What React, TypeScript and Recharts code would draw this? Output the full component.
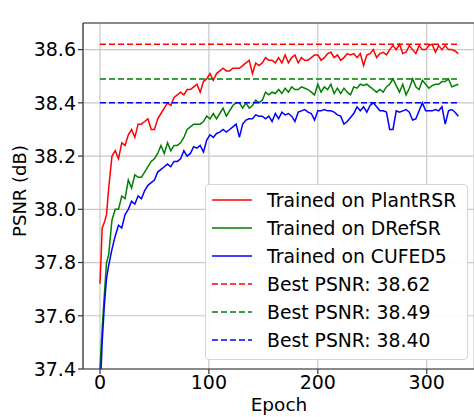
import { LineChart, Line, XAxis, YAxis, CartesianGrid, ReferenceLine, Label } from 'recharts';

const epochs = [
  0, 1, 2, 4, 6, 8,
  11, 14, 17, 20, 23, 26, 29, 32, 35, 38,
  41, 44, 47, 50, 53, 56, 59, 62, 65, 68,
  71, 74, 77, 80, 83, 86, 89, 92, 95, 98,
  101, 104, 107, 110, 113, 116, 119, 122, 125, 128,
  131, 134, 137, 140, 143, 146, 149, 152, 155, 158,
  161, 164, 167, 170, 173, 176, 179, 182, 185, 188,
  191, 194, 197, 200, 203, 206, 209, 212, 215, 218,
  221, 224, 227, 230, 233, 236, 239, 242, 245, 248,
  251, 254, 257, 260, 263, 266, 269, 272, 275, 278,
  281, 284, 287, 290, 293, 296, 299, 302, 305, 308,
  311, 314, 317, 320, 323, 326, 329,
];

const plantRSR = [
  37.72, 37.82, 37.93, 37.95, 37.98, 38.08,
  38.20, 38.22, 38.19, 38.25, 38.24, 38.28, 38.30, 38.27, 38.32, 38.32,
  38.33, 38.34, 38.30, 38.30, 38.34, 38.36, 38.38, 38.40, 38.39, 38.42,
  38.43, 38.44, 38.43, 38.45, 38.45, 38.46, 38.47, 38.44, 38.48, 38.49,
  38.51, 38.485, 38.51, 38.52, 38.53, 38.52, 38.52, 38.53, 38.53, 38.53,
  38.54, 38.55, 38.56, 38.51, 38.55, 38.54, 38.55, 38.57, 38.56, 38.56,
  38.55, 38.57, 38.55, 38.58, 38.55, 38.57, 38.58, 38.55, 38.57, 38.56,
  38.56, 38.57, 38.58, 38.58, 38.56, 38.57, 38.585, 38.59, 38.57, 38.58,
  38.56, 38.57, 38.585, 38.58, 38.585, 38.57, 38.585, 38.54, 38.58, 38.585,
  38.60, 38.57, 38.585, 38.59, 38.58, 38.60, 38.615, 38.60, 38.62, 38.585,
  38.59, 38.615, 38.60, 38.585, 38.615, 38.60, 38.60, 38.615, 38.62, 38.59,
  38.615, 38.60, 38.615, 38.60, 38.60, 38.595, 38.585,
];

const drefSR = [
  37.40, 37.48, 37.55, 37.68, 37.80, 37.83,
  37.96, 38.00, 38.00, 38.05, 38.04, 38.11, 38.08, 38.13, 38.12, 38.12,
  38.14, 38.16, 38.18, 38.19, 38.21, 38.24, 38.21, 38.25, 38.22, 38.24,
  38.24, 38.25, 38.27, 38.30, 38.31, 38.32, 38.32, 38.32, 38.33, 38.35,
  38.34, 38.36, 38.34, 38.36, 38.38, 38.35, 38.37, 38.39, 38.40, 38.40,
  38.38, 38.40, 38.38, 38.39, 38.41, 38.40, 38.41, 38.44, 38.43, 38.44,
  38.435, 38.45, 38.435, 38.455, 38.44, 38.46, 38.45, 38.45, 38.46, 38.455,
  38.45, 38.44, 38.43, 38.47, 38.44, 38.46, 38.45, 38.47, 38.435, 38.455,
  38.435, 38.455, 38.44, 38.43, 38.46, 38.455, 38.47, 38.465, 38.47, 38.46,
  38.45, 38.44, 38.45, 38.44, 38.46, 38.47, 38.49, 38.465, 38.44, 38.47,
  38.43, 38.455, 38.49, 38.46, 38.45, 38.485, 38.47, 38.455, 38.465, 38.47,
  38.47, 38.48, 38.48, 38.49, 38.46, 38.465, 38.47,
];

const cufed5 = [
  37.30, 37.40, 37.50, 37.64, 37.74, 37.79,
  37.85, 37.90, 37.94, 37.93, 37.98, 38.00, 38.03, 38.02, 38.05, 38.04,
  38.07, 38.09, 38.10, 38.11, 38.14, 38.15, 38.16, 38.17, 38.16, 38.18,
  38.18, 38.19, 38.22, 38.20, 38.21, 38.235, 38.23, 38.24, 38.215, 38.26,
  38.28, 38.27, 38.285, 38.29, 38.30, 38.29, 38.30, 38.31, 38.32, 38.27,
  38.32, 38.335, 38.34, 38.34, 38.355, 38.35, 38.35, 38.34, 38.35, 38.33,
  38.36, 38.34, 38.365, 38.355, 38.36, 38.35, 38.33, 38.365, 38.37, 38.375,
  38.365, 38.36, 38.335, 38.37, 38.37, 38.375, 38.37, 38.37, 38.365, 38.355,
  38.35, 38.32, 38.33, 38.345, 38.36, 38.385, 38.37, 38.385, 38.365, 38.39,
  38.40, 38.385, 38.37, 38.37, 38.365, 38.30, 38.30, 38.37, 38.365, 38.37,
  38.375, 38.365, 38.335, 38.34, 38.37, 38.40, 38.37, 38.37, 38.37, 38.375,
  38.37, 38.385, 38.32, 38.37, 38.375, 38.365, 38.35,
];

const bestPSNR = [38.62, 38.49, 38.40];
const seriesKeys = ['plant', 'dref', 'cufed'];
const seriesNames = ['Trained on PlantRSR', 'Trained on DRefSR', 'Trained on CUFED5'];
const colors = ['#ff0000', '#008000', '#0000ff'];
const xTicks = [0, 100, 200, 300];
const yTicks = [37.4, 37.6, 37.8, 38.0, 38.2, 38.4, 38.6];

const data = epochs.map((epoch, i) => ({
  epoch,
  plant: plantRSR[i],
  dref: drefSR[i],
  cufed: cufed5[i],
}));

const FONT = '"DejaVu Sans", sans-serif';
const lastEpoch = epochs[epochs.length - 1];

function LegendBox() {
  const rows = [
    ...seriesNames.map((name, i) => ({ name, color: colors[i], dash: undefined as string | undefined })),
    ...bestPSNR.map((v, i) => ({ name: `Best PSNR: ${v.toFixed(2)}`, color: colors[i], dash: '6 3' })),
  ];
  return (
    <div
      style={{
        position: 'absolute', left: 205, top: 184, width: 261, height: 173,
        border: '1px solid #d6d6d6', borderRadius: 4, background: 'rgba(255,255,255,0.9)',
        fontFamily: FONT, fontSize: 18.8, color: '#000', paddingTop: 1,
      }}
    >
      {rows.map((r) => (
        <div key={r.name} style={{ display: 'flex', alignItems: 'center', height: 28 }}>
          <svg width={40} height={28} style={{ marginLeft: 6, marginRight: 15 }}>
            <line x1={0} x2={40} y1={14} y2={14} stroke={r.color} strokeWidth={1.5} strokeDasharray={r.dash} />
          </svg>
          <span style={{ whiteSpace: 'nowrap' }}>{r.name}</span>
        </div>
      ))}
    </div>
  );
}

export default function App() {
  const tickStyle = { fill: '#000', fontSize: 19, fontFamily: FONT };
  return (
    <div style={{ position: 'absolute', left: 0, top: 0, width: 474, height: 417, background: '#fff', overflow: 'hidden' }}>
      <LineChart width={474} height={417} data={data} margin={{ top: 23, right: 0, bottom: 0, left: 0 }}>
        <CartesianGrid stroke="#c8c8c8" strokeWidth={1.2} />
        <XAxis
          dataKey="epoch" type="number" domain={[-15.6, 343.4]} ticks={xTicks} allowDataOverflow
          height={48} tickSize={5} tickMargin={2} stroke="#333" strokeWidth={1.2} tick={tickStyle}
        >
          <Label
            content={() => (
              <text x={279} y={411} textAnchor="middle" fontFamily={FONT} fontSize={18.5} fill="#000">Epoch</text>
            )}
          />
        </XAxis>
        <YAxis
          type="number" domain={[37.4, 38.7]} ticks={yTicks} allowDataOverflow
          width={83} tickSize={5} tickMargin={2} stroke="#333" strokeWidth={1.2} tick={tickStyle}
          tickFormatter={(v: number) => v.toFixed(1)}
        >
          <Label
            content={() => (
              <text x={26} y={191} transform="rotate(-90 26 191)" textAnchor="middle" fontFamily={FONT} fontSize={18} fill="#000">PSNR (dB)</text>
            )}
          />
        </YAxis>
        <ReferenceLine y={38.7} stroke="#333" strokeWidth={1.2} />
        {seriesKeys.map((k, i) => (
          <Line
            key={k} dataKey={k} stroke={colors[i]} strokeWidth={1.5} dot={false}
            isAnimationActive={false} type="linear"
          />
        ))}
        {bestPSNR.map((v, i) => (
          <ReferenceLine
            key={v}
            segment={[{ x: 0, y: v }, { x: lastEpoch, y: v }]}
            stroke={colors[i]} strokeWidth={1.5} strokeDasharray="6 3"
          />
        ))}
      </LineChart>
      <LegendBox />
    </div>
  );
}
